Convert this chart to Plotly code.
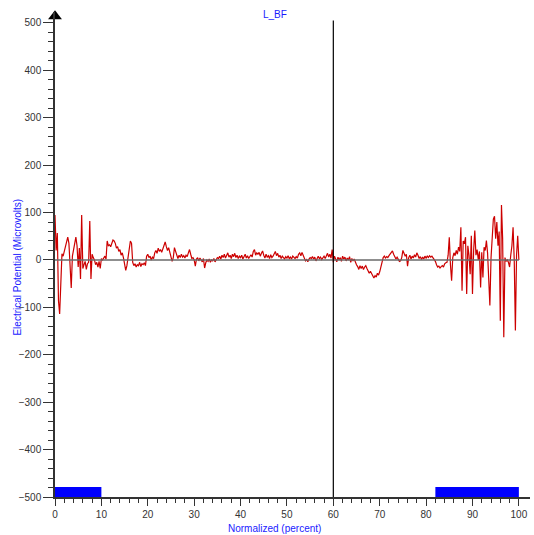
import plotly.graph_objects as go

# ---- data ----
step_pct = 0.25  # sample spacing along the normalized axis (percent)
uv = [
    95, 20, 57, -86, -114, -30, 13, 8, 18, 30, 44, 48, 35, -7, -59, 8, 22, 40, 48, 30,
    -15, 25, -40, 95, -18, -10, -3, -20, -8, -5, 82, -40, 12, 5, 0, -10, -5, -15, -3, -18,
    3, 0, 5, 8, 2, 40, 30, 32, 28, 38, 42, 40, 35, 25, 28, 18, 22, 10, 15, 5,
    -8, -22, -12, 5, 25, 40, 35, -5, -12, -8, -15, -10, -12, -5, -14, -8, -10, -6, -12, 8,
    12, 5, 8, 0, 6, 3, 15, 20, 14, 25, 18, 22, 16, 24, 30, 38, 28, 20, 26, 14,
    2, -3, 5, 26, 18, 8, 3, 10, 5, 12, 6, 9, 4, 10, 7, 15, 22, 12, 3, 5,
    0, -13, 2, 5, -2, 4, 1, -4, 3, -17, -6, 0, -3, 2, -5, 0, -2, 3, -4, 1,
    5, 3, 8, 2, 10, 5, 12, 4, 9, 15, 6, 10, 3, 12, 7, 14, 5, 10, 3, 8,
    5, 10, 2, 8, 12, 4, 9, 3, 7, 11, 6, 18, 22, 10, 15, 12, 16, 8, 14, 19,
    10, 4, 12, 6, 9, 3, 11, 5, 8, 12, 18, 9, 14, 6, 10, 3, 8, 5, 2, 7,
    4, 9, 3, 6, 2, 8, 5, 3, 7, 4, 12, 15, 9, 16, 10, 4, -2, 1, -4, 2,
    5, 3, 7, 2, 6, -2, 4, 8, 3, 6, 1, 5, 8, 3, 10, 14, 6, 12, 4, 22,
    -5, 8, 2, -4, 6, 0, 5, -3, 8, 2, 6, -2, 4, 0, 7, -5, 3, -2, 2, -6,
    -10, -14, -20, -12, -18, -13, -20, -15, -12, -18, -22, -28, -24, -30, -32, -38, -33, -36, -28, -32,
    -25, -15, -5, 5, 8, 4, 7, 5, 9, 12, 15, 19, 12, 5, 2, 6, 0, -3, -2, 5,
    20, 14, 8, 12, -13, 5, 10, 2, 8, 4, 11, 6, 15, 10, 3, 7, 1, 6, 2, 8,
    4, 8, 5, 9, 6, 8, 4, 2, -3, -10, -15, -13, -17, -14, -12, -15, -8, -6, -5, 10,
    48, -10, -44, 5, 15, 9, 20, 12, 27, 18, 69, -65, 40, 34, 48, -72, 30, 10, -30, 51,
    -72, 20, 62, 10, 22, 0, 18, -58, 16, -37, 27, 20, 41, 15, -44, -96, 5, 40, 86, 92,
    45, 80, 30, 60, -128, 116, 45, -163, 5, -3, 0, -5, -15, 10, 30, 69, 0, -149, 10, 51,
    0,
]
x_pct = [i * step_pct for i in range(len(uv))]

phase_start = [0, 82]
phase_end = [10, 100]
phase_height = 21
marker_x = 60

x_ticks = list(range(0, 101, 10))
y_ticks = list(range(-500, 501, 100))
y_min, y_max = -500, 523
x_max = 102.4

title_text = "L_BF"
x_title = "Normalized (percent)"
y_title = "Electrical Potential (Microvolts)"

FONT = "Liberation Sans, Arial, sans-serif"
BLUE = "#1a1aff"

fig = go.Figure()

# activity phase bars
fig.add_trace(go.Bar(
    x=[(s + e) / 2 for s, e in zip(phase_start, phase_end)],
    y=[phase_height] * len(phase_start),
    width=[e - s for s, e in zip(phase_start, phase_end)],
    base=y_min,
    marker=dict(color="#0000ff", line=dict(width=0)),
    hoverinfo="skip",
))

# EMG signal
fig.add_trace(go.Scatter(
    x=x_pct, y=uv, mode="lines",
    line=dict(color="#cc0000", width=1.2),
))

# zero line
fig.add_trace(go.Scatter(
    x=[0, 100], y=[0, 0], mode="lines",
    line=dict(color="#6a6a6a", width=1.5), hoverinfo="skip",
))

# vertical marker line
fig.add_trace(go.Scatter(
    x=[marker_x, marker_x], y=[y_min, 505], mode="lines",
    line=dict(color="#000000", width=1.2), hoverinfo="skip",
))

# axis arrows
fig.add_trace(go.Scatter(
    x=[0], y=[514], mode="markers",
    marker=dict(symbol="triangle-up", size=12, color="#000000"),
    cliponaxis=False, hoverinfo="skip",
))
fig.add_trace(go.Scatter(
    x=[102.6], y=[y_min], mode="markers",
    marker=dict(symbol="triangle-right", size=11, color="#000000"),
    cliponaxis=False, hoverinfo="skip",
))

fig.update_layout(
    template="none",
    width=534, height=535,
    margin=dict(l=55, r=4, t=12, b=38),
    paper_bgcolor="white", plot_bgcolor="white",
    showlegend=False,
    font=dict(family=FONT, size=10, color="#333333"),
    xaxis=dict(
        range=[0, x_max], tickvals=x_ticks, showgrid=False, zeroline=False,
        showline=True, linecolor="#333333", linewidth=1.5,
        ticks="outside", ticklen=7, tickwidth=1, tickcolor="#333333",
        minor=dict(tickvals=list(range(0, 101, 2)), ticks="outside", ticklen=4,
                   tickwidth=1, tickcolor="#333333", showgrid=False),
        automargin=False, tickfont=dict(size=10, color="#333333"),
    ),
    yaxis=dict(
        range=[y_min, y_max], tickvals=y_ticks, showgrid=False, zeroline=False,
        showline=True, linecolor="#333333", linewidth=1.5,
        ticks="outside", ticklen=10, tickwidth=1, tickcolor="#333333",
        minor=dict(tickvals=list(range(-500, 501, 20)), ticks="outside", ticklen=5,
                   tickwidth=1, tickcolor="#333333", showgrid=False),
        automargin=False, tickfont=dict(size=10, color="#333333"),
    ),
    annotations=[
        dict(text=title_text, xref="paper", yref="paper", x=0.463, y=0.994,
             showarrow=False, font=dict(family=FONT, size=10, color=BLUE),
             xanchor="center", yanchor="middle"),
        dict(text=x_title, xref="paper", yref="paper", x=0.463, y=-0.064,
             showarrow=False, font=dict(family=FONT, size=10, color=BLUE),
             xanchor="center", yanchor="middle"),
        dict(text=y_title, xref="paper", yref="paper", x=-0.078, y=0.475,
             showarrow=False, textangle=-90,
             font=dict(family=FONT, size=10, color=BLUE),
             xanchor="center", yanchor="middle"),
    ],
)

fig.write_html("out.html", config={"displayModeBar": False},
               post_script="document.body.style.margin='0';")
